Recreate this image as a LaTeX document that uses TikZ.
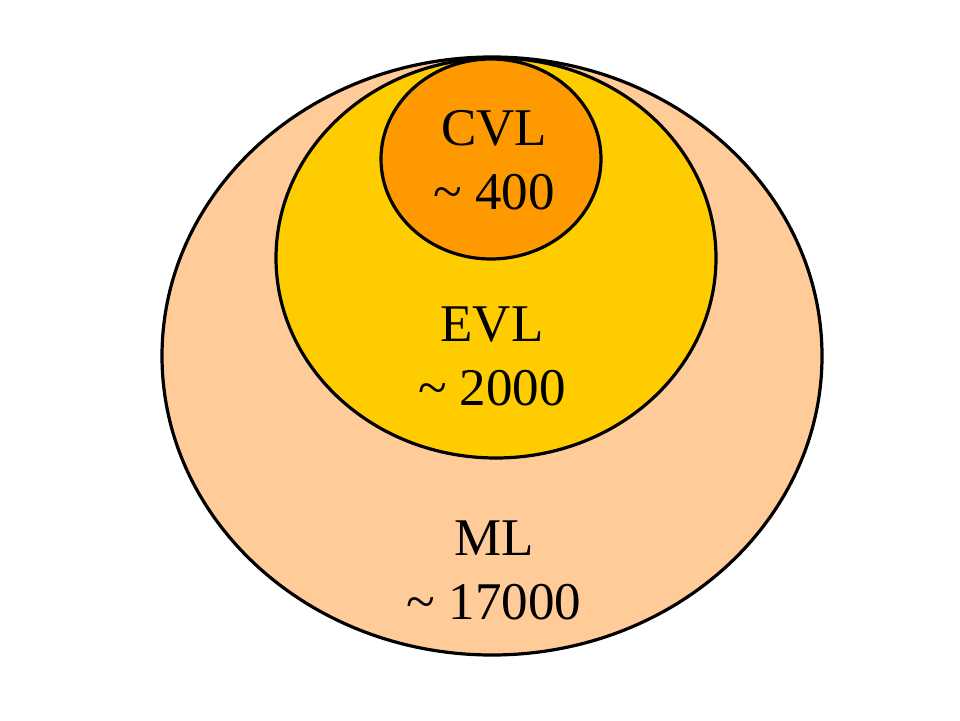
\documentclass[tikz,border=0pt]{standalone}
\usepackage{fontspec}
\setmainfont{Liberation Serif}
\usetikzlibrary{shapes.geometric}
\definecolor{peach}{HTML}{FFCC99}
\definecolor{gold}{HTML}{FFCC00}
\definecolor{orng}{HTML}{FF9900}
\tikzset{
  blob/.style={ellipse, draw=black, line width=3.2pt, inner sep=0pt},
  lbl/.style={align=center, inner sep=0pt, font=\fontsize{53}{64}\selectfont, anchor=base}
}
\begin{document}
\begin{tikzpicture}[x=1pt,y=-1pt]
\useasboundingbox (0,0) rectangle (960,720);
\node[blob, fill=peach, minimum width=660pt, minimum height=598pt] (ml) at (492,356) {};
\node[blob, fill=gold, minimum width=440pt, minimum height=400pt] (evl) at (496,258) {};
\node[blob, fill=orng, minimum width=220pt, minimum height=200pt] (cvl) at (491,159) {};
\node[lbl] (cvlt) at (494,209) {CVL\\\textasciitilde{} 400};
\node[lbl] (evlt) at (492,405) {EVL\\\textasciitilde{} 2000};
\node[lbl] (mlt) at (494,619) {ML\\\textasciitilde{} 17000};
\end{tikzpicture}
\end{document}
